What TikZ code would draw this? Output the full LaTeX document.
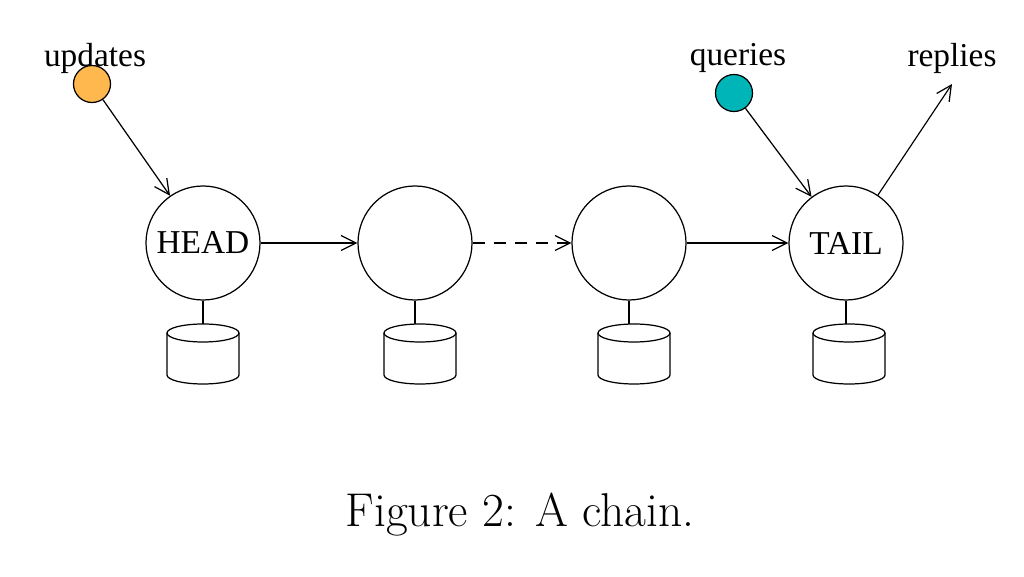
\documentclass[tikz,border=0pt]{standalone}
\usepackage{fontspec}
\newfontfamily\lab{Liberation Serif}
\usetikzlibrary{arrows.meta}
\definecolor{upd}{HTML}{FFB84D}
\definecolor{qry}{HTML}{00B5B8}
\begin{document}
\begin{tikzpicture}[x=0.02cm,y=-0.02cm,
  srv/.style={circle,draw,line width=0.7pt,minimum size=114*0.02cm,inner sep=0pt,font=\lab\fontsize{19}{22}\selectfont},
  dot/.style={circle,draw,line width=0.7pt,minimum size=37*0.02cm,inner sep=0pt},
  lbl/.style={font=\lab\fontsize{19}{22}\selectfont},
  arr/.style={-{Straight Barb[length=3mm,width=3mm]},line width=0.7pt}]
\useasboundingbox (0,0) rectangle (1024,577);
\node[srv] (h) at (203,243) {HEAD};
\node[srv] (m1) at (415,243) {};
\node[srv] (m2) at (629,243) {};
\node[srv] (t) at (846,243) {TAIL};
\foreach \n/\x in {h/203,m1/420,m2/634,t/849}{
  \coordinate (d\n) at (\x,333);
  \draw[line width=0.7pt] (d\n) ellipse[x radius=36,y radius=9];
  \draw[line width=0.7pt] ([xshift=-36*0.02cm]d\n) -- ++(0,42) arc[start angle=180,end angle=360,x radius=36,y radius=-9] -- ++(0,-42);
}
\foreach \n/\x in {h/203,m1/415,m2/629,t/846}{
  \draw[line width=0.7pt] (\n.south) -- (\x,324);
}
\draw[arr] (h) -- (m1);
\draw[arr,dash pattern=on 7pt off 5pt] (m1) -- (m2);
\draw[arr] (m2) -- (t);
\node[lbl] (ul) at (95,58) {updates};
\node[dot,fill=upd] (u) at (92,84) {};
\node[lbl] (ql) at (738,58) {queries};
\node[dot,fill=qry] (q) at (734,93) {};
\node[lbl] (rl) at (952,58) {replies};
\coordinate (r) at (952,84);
\draw[arr] (u) -- (h);
\draw[arr] (q) -- (t);
\draw[arr] (t) -- (r);
\node[font=\fontsize{27}{32}\selectfont] (cap) at (520,515) {Figure 2: A chain.};
\end{tikzpicture}
\end{document}
